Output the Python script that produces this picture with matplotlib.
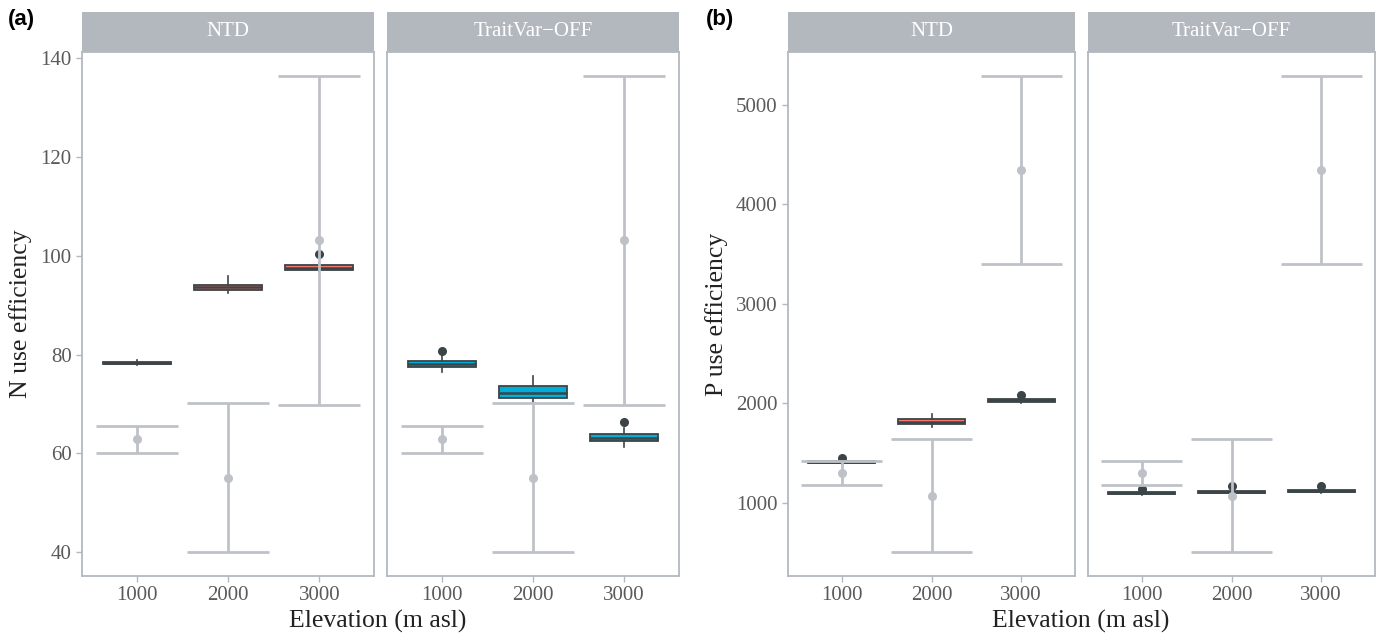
# Use efficiency by elevation: observed (error bars) vs model runs (boxplots)

import matplotlib.pyplot as plt

plt.rcParams['font.family'] = ['Liberation Serif', 'DejaVu Serif']

elev = ["1000", "2000", "3000"]
facets = ["NTD", "TraitVar\u2212OFF"]
fill_colors = ["#F8766D", "#00AFD9"]

# observed values (grey points + error bars), same in both facets
obs_N_mean = [62.9, 55.1, 103.1]
obs_N_lo = [60.1, 40.0, 69.7]
obs_N_hi = [65.6, 70.2, 136.4]

obs_P_mean = [1294, 1070, 4345]
obs_P_lo = [1177, 502, 3403]
obs_P_hi = [1416, 1640, 5290]

# model boxplot stats: q1, median, q3, lower whisker, upper whisker, outliers
N_NTD_q1 = [78.0, 93.1, 97.1]
N_NTD_med = [78.2, 93.6, 97.6]
N_NTD_q3 = [78.5, 94.1, 98.1]
N_NTD_lo = [77.8, 92.4, 96.8]
N_NTD_hi = [78.8, 95.8, 98.6]
N_NTD_out = [[], [], [100.3]]

N_TV_q1 = [77.4, 71.3, 62.5]
N_TV_med = [78.0, 72.3, 63.2]
N_TV_q3 = [78.7, 73.6, 63.9]
N_TV_lo = [76.5, 70.4, 61.3]
N_TV_hi = [79.8, 75.7, 65.2]
N_TV_out = [[80.7], [], [66.4]]

P_NTD_q1 = [1398, 1792, 2015]
P_NTD_med = [1408, 1815, 2030]
P_NTD_q3 = [1418, 1838, 2045]
P_NTD_lo = [1392, 1765, 2005]
P_NTD_hi = [1425, 1889, 2055]
P_NTD_out = [[1450], [], [2080]]

P_TV_q1 = [1085, 1098, 1108]
P_TV_med = [1095, 1110, 1120]
P_TV_q3 = [1106, 1122, 1132]
P_TV_lo = [1078, 1090, 1100]
P_TV_hi = [1115, 1130, 1140]
P_TV_out = [[1137], [1163], [1170]]

W, H = 1381, 635
grey = "#b3b8bf"
ebar = "#bec2c8"
edge = "#3b4446"

fig = plt.figure(figsize=(W / 100, H / 100), dpi=100)


def px_axes(x0, y0, x1, y1):
    return fig.add_axes([x0 / W, 1 - y1 / H, (x1 - x0) / W, (y1 - y0) / H])


def make_stats(q1, med, q3, lo, hi, out):
    return [dict(q1=q1[i], med=med[i], q3=q3[i], whislo=lo[i], whishi=hi[i], fliers=out[i])
            for i in range(len(q1))]


def draw_facet(x0, x1, title, color, stats, m, lo, hi, ylim, yticks, show_y):
    ax = px_axes(x0, 52, x1, 576)
    pos = [1, 2, 3]
    ax.bxp(stats, positions=pos, widths=0.75, patch_artist=True, showcaps=False,
           boxprops=dict(facecolor=color, edgecolor=edge, linewidth=1.3),
           medianprops=dict(color=edge, linewidth=1.8),
           whiskerprops=dict(color=edge, linewidth=1.2),
           flierprops=dict(marker='o', markersize=5.5, markerfacecolor=edge,
                           markeredgecolor=edge), zorder=2)
    # observed error bars
    ax.vlines(pos, lo, hi, color=ebar, linewidth=2, zorder=3)
    ax.hlines(lo, [p - 0.45 for p in pos], [p + 0.45 for p in pos], color=ebar, linewidth=2, zorder=3)
    ax.hlines(hi, [p - 0.45 for p in pos], [p + 0.45 for p in pos], color=ebar, linewidth=2, zorder=3)
    ax.plot(pos, m, 'o', color=ebar, markersize=5.5, zorder=4)
    ax.set_xlim(0.4, 3.6)
    ax.set_ylim(*ylim)
    ax.set_xticks(pos)
    ax.set_xticklabels(elev)
    ax.set_yticks(yticks)
    if not show_y:
        ax.tick_params(axis='y', left=False, labelleft=False)
    ax.tick_params(colors=grey, labelcolor="#5a5a5a", labelsize=15, length=4, width=1)
    for s in ax.spines.values():
        s.set_color(grey)
        s.set_linewidth(1.3)
    # strip
    st = px_axes(x0, 12, x1, 52)
    st.set_facecolor(grey)
    st.set_xticks([])
    st.set_yticks([])
    for s in st.spines.values():
        s.set_visible(False)
    st.text(0.5, 0.5, title, ha='center', va='center', color='white', fontsize=15,
            transform=st.transAxes)
    return ax


# panel (a): N use efficiency
ylim_a = (35.2, 141.2)
ticks_a = [40, 60, 80, 100, 120, 140]
ax = draw_facet(82, 374, facets[0], fill_colors[0],
                make_stats(N_NTD_q1, N_NTD_med, N_NTD_q3, N_NTD_lo, N_NTD_hi, N_NTD_out),
                obs_N_mean, obs_N_lo, obs_N_hi, ylim_a, ticks_a, True)
ax.set_ylabel("N use efficiency", fontsize=18.5, color="#222222", labelpad=6)
draw_facet(387, 679, facets[1], fill_colors[1],
           make_stats(N_TV_q1, N_TV_med, N_TV_q3, N_TV_lo, N_TV_hi, N_TV_out),
           obs_N_mean, obs_N_lo, obs_N_hi, ylim_a, ticks_a, False)

# panel (b): P use efficiency
ylim_b = (263, 5529)
ticks_b = [1000, 2000, 3000, 4000, 5000]
ax = draw_facet(788, 1075, facets[0], fill_colors[0],
                make_stats(P_NTD_q1, P_NTD_med, P_NTD_q3, P_NTD_lo, P_NTD_hi, P_NTD_out),
                obs_P_mean, obs_P_lo, obs_P_hi, ylim_b, ticks_b, True)
ax.set_ylabel("P use efficiency", fontsize=18.5, color="#222222", labelpad=6)
draw_facet(1088, 1375, facets[1], fill_colors[1],
           make_stats(P_TV_q1, P_TV_med, P_TV_q3, P_TV_lo, P_TV_hi, P_TV_out),
           obs_P_mean, obs_P_lo, obs_P_hi, ylim_b, ticks_b, False)

# shared x titles and panel letters
fig.text(378 / W, 1 - 628 / H, "Elevation (m asl)", ha='center', va='baseline',
         fontsize=18.5, color="#222222")
fig.text(1081 / W, 1 - 628 / H, "Elevation (m asl)", ha='center', va='baseline',
         fontsize=18.5, color="#222222")
fig.text(8 / W, 1 - 20 / H, "(a)", ha='left', va='center', fontsize=16,
         fontweight='bold', family='Liberation Sans')
fig.text(706 / W, 1 - 20 / H, "(b)", ha='left', va='center', fontsize=16,
         fontweight='bold', family='Liberation Sans')

fig.savefig("out.png", dpi=100)
